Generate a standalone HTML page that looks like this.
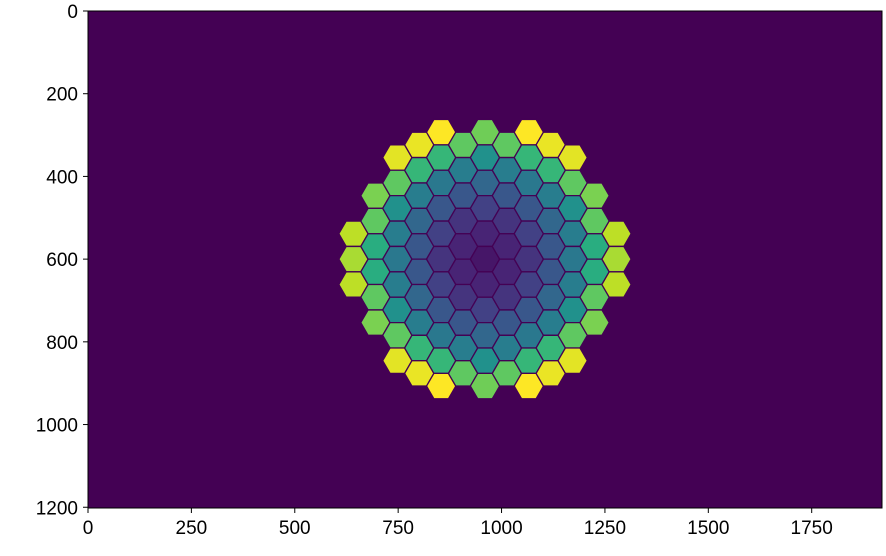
<!DOCTYPE html>
<html><head><meta charset="utf-8"><style>
body{margin:0;background:#fff;}
svg text{font-family:"Liberation Sans",sans-serif;font-size:19px;fill:#000;}
</style></head><body>
<svg id="chart" width="886" height="551" xmlns="http://www.w3.org/2000/svg">
<rect x="88" y="11" width="794" height="497" fill="#440154"/>
<g id="hexes"></g>
<rect x="88" y="11" width="794" height="497" fill="none" stroke="#000" stroke-width="1"/>
<g id="ticks"></g>
</svg>
<script>
const xTicks=[0,250,500,750,1000,1250,1500,1750];
const yTicks=[0,200,400,600,800,1000,1200];
const colQ=[-6,-5,-4,-3,-2,-1,0,1,2,3,4,5,6];
const colValues=[
[0.9,0.87,0.9],
[0.8,0.75,0.62,0.62,0.75,0.8],
[0.96,0.75,0.5,0.42,0.40,0.42,0.5,0.75,0.96],
[0.97,0.66,0.42,0.33,0.27,0.27,0.33,0.42,0.66,0.97],
[1.0,0.66,0.40,0.27,0.19,0.15,0.19,0.27,0.40,0.66,1.0],
[0.75,0.42,0.27,0.15,0.10,0.10,0.15,0.27,0.42,0.75],
[0.78,0.5,0.33,0.19,0.10,0.06,0.10,0.19,0.33,0.5,0.78],
[0.75,0.42,0.27,0.15,0.10,0.10,0.15,0.27,0.42,0.75],
[1.0,0.66,0.40,0.27,0.19,0.15,0.19,0.27,0.40,0.66,1.0],
[0.97,0.66,0.42,0.33,0.27,0.27,0.33,0.42,0.66,0.97],
[0.96,0.75,0.5,0.42,0.40,0.42,0.5,0.75,0.96],
[0.8,0.75,0.62,0.62,0.75,0.8],
[0.9,0.87,0.9]
];
const NS='http://www.w3.org/2000/svg';
const X0=88,Y0=11,S=794/1920;
function sx(v){return X0+v*S;}
function sy(v){return Y0+v*S;}
const stops=['#440154','#482475','#414487','#355f8d','#2a788e','#21918c','#22a884','#44bf70','#7ad151','#bddf26','#fde725'];
function hex2rgb(h){return [1,3,5].map(i=>parseInt(h.substr(i,2),16));}
function viridis(t){t=Math.max(0,Math.min(1,t));const f=t*10,i=Math.min(9,Math.floor(f)),u=f-i;
const a=hex2rgb(stops[i]),b=hex2rgb(stops[i+1]);return 'rgb('+a.map((c,j)=>Math.round(c+(b[j]-c)*u)).join(',')+')';}
const cx=960,cy=600,dx=53,dy=61.4,R=35.4;
const g=document.getElementById('hexes');
colQ.forEach((q,ci)=>{
  const vals=colValues[ci],n=vals.length;
  vals.forEach((v,i)=>{
    const k=i-(n-1)/2;
    const px=sx(cx+q*dx),py=sy(cy+k*dy),r=R*S;
    let pts=[];for(let a=0;a<6;a++){const ang=a*Math.PI/3;pts.push((px+r*Math.cos(ang)).toFixed(2)+','+(py+r*Math.sin(ang)).toFixed(2));}
    const p=document.createElementNS(NS,'polygon');
    p.setAttribute('points',pts.join(' '));
    p.setAttribute('fill',viridis(v));
    p.setAttribute('stroke','#440154');
    p.setAttribute('stroke-width','1.3');
    
    
    g.appendChild(p);
  });
});
const tg=document.getElementById('ticks');
xTicks.forEach(v=>{
  const x=sx(v);
  const l=document.createElementNS(NS,'line');
  l.setAttribute('x1',x);l.setAttribute('x2',x);l.setAttribute('y1',508);l.setAttribute('y2',513);l.setAttribute('stroke','#000');
  
  
  tg.appendChild(l);
  const t=document.createElementNS(NS,'text');
  t.setAttribute('x',x);t.setAttribute('y',534);t.setAttribute('text-anchor','middle');t.textContent=v;
  
  
  tg.appendChild(t);
});
yTicks.forEach(v=>{
  const y=sy(v);
  const l=document.createElementNS(NS,'line');
  l.setAttribute('x1',83);l.setAttribute('x2',88);l.setAttribute('y1',y);l.setAttribute('y2',y);l.setAttribute('stroke','#000');
  
  
  tg.appendChild(l);
  const t=document.createElementNS(NS,'text');
  t.setAttribute('x',78);t.setAttribute('y',y+7);t.setAttribute('text-anchor','end');t.textContent=v;
  
  
  tg.appendChild(t);
});
</script>
</body></html>
